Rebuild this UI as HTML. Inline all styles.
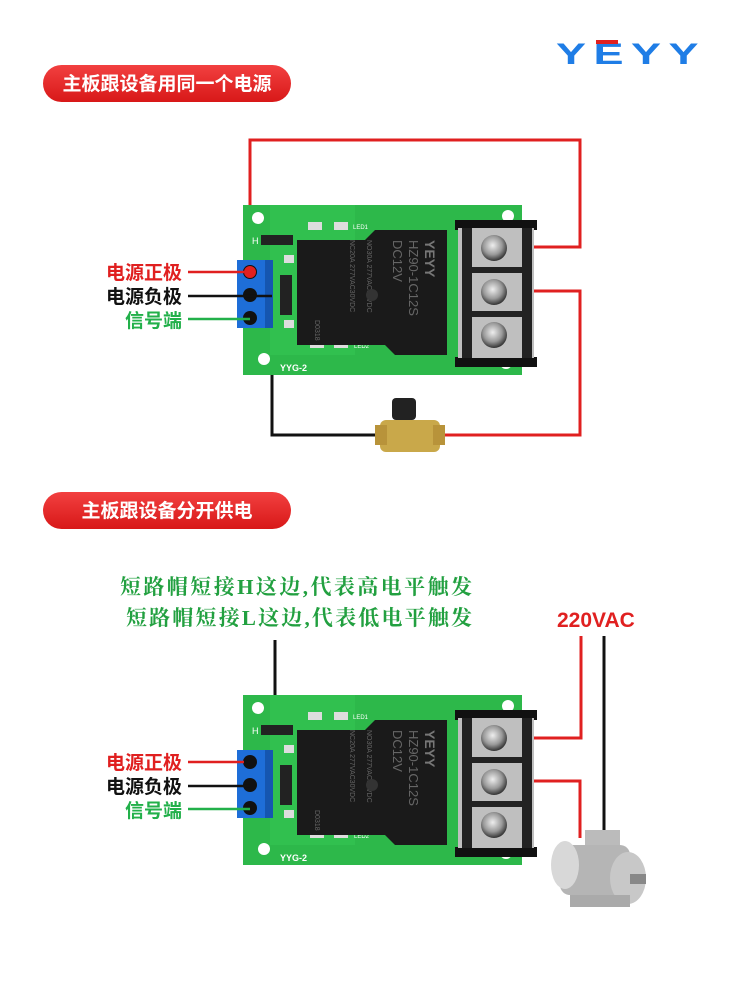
<!DOCTYPE html>
<html><head><meta charset="utf-8"><style>
body{margin:0;background:#fff;}
svg{display:block;font-family:"Liberation Sans","Noto Sans CJK SC",sans-serif;}
</style></head><body>
<svg width="750" height="1000" viewBox="0 0 750 1000" xmlns="http://www.w3.org/2000/svg">
<defs>
<linearGradient id="pill" x1="0" y1="0" x2="0" y2="1"><stop offset="0" stop-color="#f24040"/><stop offset="1" stop-color="#d81818"/></linearGradient>
<radialGradient id="screw" cx="0.45" cy="0.4" r="0.6"><stop offset="0" stop-color="#eee"/><stop offset="0.6" stop-color="#999"/><stop offset="1" stop-color="#333"/></radialGradient>
<g id="board">
  <rect x="243" y="205" width="279" height="170" fill="#2db84a"/>
  <rect x="270" y="205" width="85" height="150" fill="#34c454" opacity="0.6"/>
  <circle cx="258" cy="218" r="6" fill="#fff"/>
  <circle cx="508" cy="216" r="6" fill="#fff"/>
  <circle cx="264" cy="359" r="6" fill="#fff"/>
  <circle cx="506" cy="363" r="6" fill="#fff"/>
  <rect x="261" y="235" width="32" height="10" fill="#222"/>
  <text x="252" y="244" font-size="9" fill="#fff">H</text>
  <rect x="308" y="222" width="14" height="8" fill="#ddd"/><rect x="334" y="222" width="14" height="8" fill="#ddd"/>
  <text x="353" y="229" font-size="6" fill="#fff">LED1</text>
  <rect x="310" y="340" width="14" height="8" fill="#ddd"/><rect x="334" y="340" width="14" height="8" fill="#ddd"/>
  <text x="354" y="348" font-size="6" fill="#fff">LED2</text>
  <rect x="284" y="255" width="10" height="8" fill="#ddd"/>
  <rect x="280" y="275" width="12" height="40" fill="#222"/>
  <rect x="284" y="320" width="10" height="8" fill="#ddd"/>
  <text x="280" y="371" font-size="9" fill="#fff" font-weight="bold">YYG-2</text>
  <path d="M297 240 H365 L375 230 H447 V355 H395 L385 345 H297 Z" fill="#1a1a1a"/>
  <g transform="translate(425,240) rotate(90)" fill="#666" font-size="11">
    <text x="0" y="0" font-size="14" fill="#777" font-weight="bold">YEYY</text>
    <text x="0" y="16" font-size="13">HZ90-1C12S</text>
    <text x="0" y="32" font-size="13">DC12V</text>
    <text x="0" y="58" font-size="7">NO30A 277VAC30VDC</text>
    <text x="0" y="75" font-size="7">NC20A 277VAC30VDC</text>
    <text x="80" y="110" font-size="7">D0318</text>
  </g>
  <circle cx="372" cy="295" r="6" fill="#333"/>
  <rect x="237" y="260" width="36" height="68" fill="#1e6ed8"/>
  <rect x="265" y="260" width="8" height="68" fill="#1556b0"/>
  <circle cx="250" cy="272" r="7" fill="#111"/><circle cx="250" cy="295" r="7" fill="#111"/><circle cx="250" cy="318" r="7" fill="#111"/>
  <rect x="455" y="220" width="82" height="10" fill="#111"/>
  <rect x="455" y="357" width="82" height="10" fill="#111"/>
  <rect x="458" y="228" width="76" height="130" fill="#bfbfbf"/>
  <rect x="462" y="228" width="10" height="130" fill="#222"/>
  <rect x="522" y="228" width="10" height="130" fill="#222"/>
  <rect x="472" y="267" width="50" height="6" fill="#222"/><rect x="472" y="311" width="50" height="6" fill="#222"/>
  <circle cx="494" cy="248" r="13" fill="url(#screw)"/>
  <circle cx="494" cy="292" r="13" fill="url(#screw)"/>
  <circle cx="494" cy="335" r="13" fill="url(#screw)"/>
</g>
</defs>

<!-- logo -->
<text transform="translate(556,64) scale(1.5,1)" font-weight="bold" font-size="30" fill="#1f7de6" letter-spacing="5">YEYY</text>
<rect x="556" y="40" width="146" height="3" fill="#fff"/>
<rect x="596" y="40" width="22" height="4" fill="#e02020"/>

<rect x="43" y="65" width="248" height="37" rx="18.5" fill="url(#pill)"/>
<text x="167" y="90" font-size="19" font-weight="bold" fill="#fff" text-anchor="middle">主板跟设备用同一个电源</text>

<!-- top wires -->
<g fill="none" stroke-width="3">
<path d="M250 270 V140 H580 V247 H494" stroke="#e02020"/>
<path d="M494 291 H580 V435 H430" stroke="#e02020"/>
<path d="M272 295 V435 H388" stroke="#111"/>
</g>
<use href="#board"/>
<circle cx="250" cy="272" r="6" fill="#e02020"/>
<g stroke-width="2.5">
<line x1="188" y1="272" x2="244" y2="272" stroke="#e02020"/>
<line x1="188" y1="296" x2="272" y2="296" stroke="#111"/>
<line x1="188" y1="319" x2="250" y2="319" stroke="#22b04a"/>
</g>
<g font-size="19" font-weight="bold" text-anchor="end">
<text x="182" y="279" fill="#e02020">电源正极</text>
<text x="182" y="303" fill="#111">电源负极</text>
<text x="182" y="327" fill="#22b04a">信号端</text>
</g>
<!-- valve -->
<g>
<rect x="392" y="398" width="24" height="22" rx="4" fill="#222"/>
<rect x="380" y="420" width="60" height="32" rx="6" fill="#c9a84a"/>
<rect x="375" y="425" width="12" height="20" fill="#b8933a"/>
<rect x="433" y="425" width="12" height="20" fill="#b8933a"/>
</g>

<!-- section 2 -->
<rect x="43" y="492" width="248" height="37" rx="18.5" fill="url(#pill)"/>
<text x="167" y="517" font-size="19" font-weight="bold" fill="#fff" text-anchor="middle">主板跟设备分开供电</text>
<g font-size="21" fill="#22a040" font-family="Liberation Serif,'Noto Serif CJK SC',serif" font-weight="bold">
<text x="120" y="594" textLength="352" lengthAdjust="spacing">短路帽短接H这边,代表高电平触发</text>
<text x="126" y="625" textLength="346" lengthAdjust="spacing">短路帽短接L这边,代表低电平触发</text>
</g>
<text x="557" y="627" font-size="21" font-weight="bold" fill="#e02020">220VAC</text>
<g fill="none" stroke-width="3">
<path d="M581 636 V738 H494" stroke="#e02020"/>
<path d="M494 781 H580 V838" stroke="#e02020"/>
<line x1="604" y1="636" x2="604" y2="905" stroke="#111"/>
<line x1="275" y1="640" x2="275" y2="732" stroke="#111"/>
</g>
<use href="#board" transform="translate(0,490)"/>
<g stroke-width="2.5">
<line x1="188" y1="762" x2="244" y2="762" stroke="#e02020"/>
<line x1="188" y1="786" x2="250" y2="786" stroke="#111"/>
<line x1="188" y1="809" x2="250" y2="809" stroke="#22b04a"/>
</g>
<g font-size="19" font-weight="bold" text-anchor="end">
<text x="182" y="769" fill="#e02020">电源正极</text>
<text x="182" y="793" fill="#111">电源负极</text>
<text x="182" y="817" fill="#22b04a">信号端</text>
</g>
<!-- motor -->
<g>
<rect x="585" y="830" width="35" height="25" fill="#bbb"/>
<rect x="560" y="845" width="70" height="50" rx="10" fill="#b5b5b5"/>
<ellipse cx="565" cy="865" rx="14" ry="24" fill="#d8d8d8"/>
<ellipse cx="628" cy="878" rx="18" ry="26" fill="#c8c8c8"/>
<rect x="630" y="874" width="16" height="10" fill="#888"/>
<rect x="570" y="895" width="60" height="12" fill="#aaa"/>
</g>
</svg>
</body></html>
